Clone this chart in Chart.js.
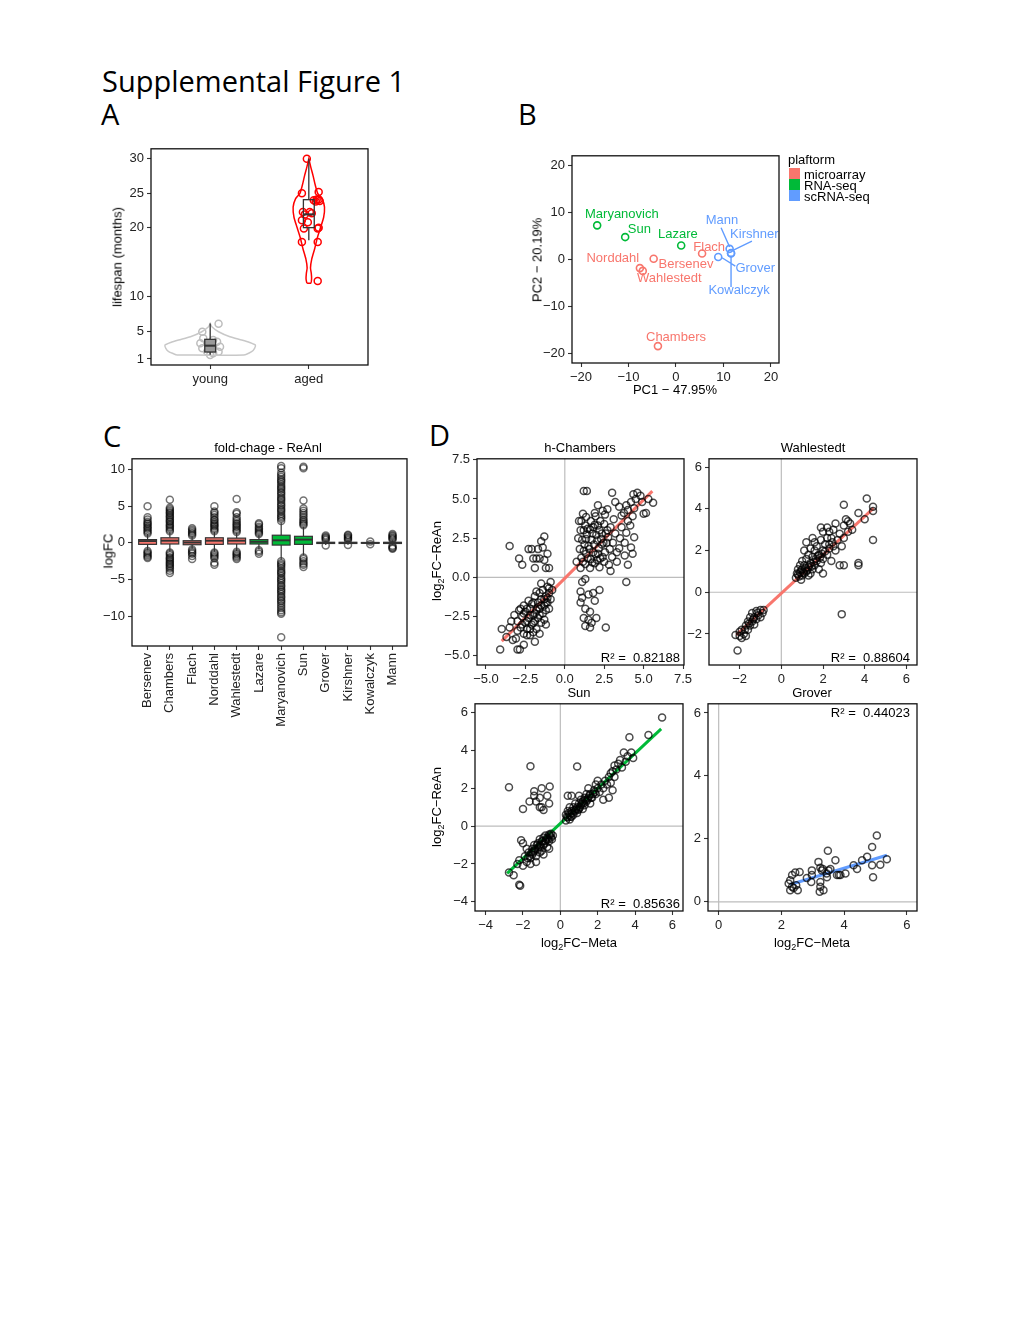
<!DOCTYPE html>
<html>
<head>
<meta charset="utf-8">
<script src="https://cdn.jsdelivr.net/npm/chart.js@4.4.1/dist/chart.umd.min.js"></script>
<style>
  body { margin: 0; background: #fff; width: 1020px; height: 1320px; position: relative; overflow: hidden;
         font-family: "Liberation Sans", Arial, sans-serif; color: #000; }
  canvas { position: absolute; }
  .t { position: absolute; white-space: pre; font-size: 13px; line-height: 13px; }
  .t sub { font-size: 9px; line-height: 0; vertical-align: -3px; }
  .big { position: absolute; white-space: pre; font-family: "Open Sans", sans-serif; font-size: 29px; line-height: 29px; }
  .key { position: absolute; width: 11px; height: 11px; }
</style>
</head>
<body>
<script>
// ---------- A: lifespan ----------
const groups = ['young', 'aged'];
const lifeTicks = [1, 5, 10, 20, 25, 30];
const youngViolinY = [1.58, 2.06, 2.55, 3.02, 3.4, 3.75, 4.22, 4.95, 5.67, 6.16];
const youngViolinW = [0.34, 0.42, 0.45, 0.458, 0.4, 0.32, 0.2, 0.085, 0.017, 0];
const agedViolinY = [12.0, 12.6, 13.4, 14.2, 15.5, 17.0, 18.5, 20.0, 21.5, 23.0, 24.2, 25.0, 26.2, 27.5, 28.8, 30.0];
const agedViolinW = [0.02, 0.028, 0.025, 0.017, 0.03, 0.06, 0.085, 0.118, 0.15, 0.159, 0.135, 0.09, 0.065, 0.044, 0.02, 0];
const youngPts = [[1.085, 6.1], [0.92, 4.95], [0.9, 3.27], [0.92, 2.55], [0.97, 2.06], [1.03, 1.82], [1.085, 2.06],
  [1.0, 1.58], [1.1, 2.78], [1.07, 3.5], [0.93, 3.99], [1.03, 3.75]];
const agedPts = [[1.98, 30.0], [1.93, 25.0], [2.10, 25.2], [2.08, 24.1], [2.10, 24.1], [2.05, 24.0], [2.07, 23.8],
  [2.11, 23.9], [1.94, 22.3], [1.96, 21.95], [2.03, 22.1], [2.01, 22.3], [1.93, 21.1], [1.99, 20.8], [1.95, 19.9],
  [2.10, 20.0], [2.09, 19.9], [1.93, 17.95], [2.09, 17.95], [2.09, 12.3]];
const lifeQ1 = [2.01, 20.03];
const lifeMed = [2.93, 21.95];
const lifeQ3 = [3.85, 24.08];
const lifeLo = [1.6, 18.2];
const lifeHi = [6.16, 30.0];

// ---------- B: PCA ----------
const platforms = ['microarray', 'RNA-seq', 'scRNA-seq'];
const pcaNames = ['Maryanovich', 'Sun', 'Lazare', 'Flach', 'Bersenev', 'Norddahl', 'Wahlestedt', 'Chambers', 'Mann', 'Kirshner', 'Grover', 'Kowalczyk'];
const pcaPlatform = [1, 1, 1, 0, 0, 0, 0, 0, 2, 2, 2, 2];
const pcaPC1 = [-16.6, -10.7, 1.1, 5.5, -4.7, -7.6, -7.0, -3.8, 11.3, 11.6, 8.9, 11.6];
const pcaPC2 = [7.3, 4.8, 3.0, 1.3, 0.2, -1.8, -2.4, -18.4, 2.3, 1.4, 0.55, 1.3];
const pcaLabelX = [-11.4, -7.7, 0.4, 7.0, 2.1, -13.3, -1.4, 0.0, 9.7, 16.5, 16.7, 13.3];
const pcaLabelY = [9.6, 6.4, 5.3, 2.7, -1.0, 0.2, -3.9, -16.6, 8.3, 5.3, -1.8, -6.5];
const pcaLeadFrom = { Mann: [9.5, 6.8], Kirshner: [16.0, 3.95], Grover: [12.5, -1.4], Kowalczyk: [11.6, -5.8] };
const pcaLeadTo = { Mann: [11.3, 2.7], Kirshner: [12.1, 2.0], Grover: [9.7, 0.4], Kowalczyk: [11.6, 0.9] };
const pcaTicks = [-20, -10, 0, 10, 20];

// ---------- C: fold change boxplots ----------
const cNames = ['Bersenev', 'Chambers', 'Flach', 'Norddahl', 'Wahlestedt', 'Lazare', 'Maryanovich', 'Sun', 'Grover', 'Kirshner', 'Kowalczyk', 'Mann'];
const cPlatform = [0, 0, 0, 0, 0, 1, 1, 1, 2, 2, 2, 2];
const cQ1 = [-0.2, -0.15, -0.25, -0.2, -0.15, -0.15, -0.3, -0.2, -0.08, -0.08, -0.05, -0.08];
const cMed = [0.25, 0.3, 0.05, 0.3, 0.3, 0.15, 0.35, 0.45, 0.0, 0.0, 0.0, 0.0];
const cQ3 = [0.45, 0.7, 0.3, 0.7, 0.65, 0.45, 1.05, 0.9, 0.08, 0.08, 0.05, 0.08];
const cLo = [-1.0, -1.2, -0.8, -1.2, -1.1, -0.9, -2.3, -1.7, -0.3, -0.25, -0.15, -0.3];
const cHi = [1.2, 1.5, 0.9, 1.5, 1.4, 1.1, 2.8, 2.2, 0.3, 0.3, 0.15, 0.35];
const cOutliers = [
  [1.3, 1.5, 1.7, 1.95, 2.1, 2.3, 2.55, 2.7, 2.9, 3.2, 3.5, 5.0, -1.1, -1.3, -1.5, -1.7, -1.9, -2.05],
  [1.6, 1.8, 2.05, 2.2, 2.4, 2.6, 2.85, 3.0, 3.2, 3.45, 3.6, 3.8, 4.05, 4.2, 4.4, 4.6, 4.8, 5.9,
   -1.3, -1.5, -1.7, -1.95, -2.1, -2.3, -2.5, -2.75, -2.9, -3.1, -3.3, -3.5, -3.8, -4.1],
  [1.0, 1.2, 1.4, 1.6, 1.8, 2.0, -0.9, -1.1, -1.3, -1.5, -1.8, -2.2],
  [1.6, 1.8, 2.0, 2.25, 2.4, 2.6, 2.8, 3.05, 3.2, 3.5, 3.8, 4.1, 4.3, 5.0, -1.3, -1.5, -1.7, -1.9, -2.1, -2.7, -3.0],
  [1.5, 1.7, 1.9, 2.15, 2.3, 2.5, 2.7, 2.95, 3.2, 3.5, 4.0, 4.2, 6.0, -1.2, -1.4, -1.6, -1.8, -2.0, -2.2],
  [1.2, 1.4, 1.6, 1.8, 2.0, 2.2, 2.5, 2.7, -1.0, -1.2, -1.5],
  [3.0, 3.3, 3.5, 3.7, 4.0, 4.3, 4.5, 4.7, 5.0, 5.2, 5.5, 5.8, 6.0, 6.2, 6.5, 6.8, 7.0, 7.3, 7.5, 7.7, 8.0, 8.3, 8.5,
   8.7, 9.0, 9.3, 9.6, 10.2, 10.5,
   -2.5, -2.8, -3.0, -3.2, -3.5, -3.8, -4.0, -4.2, -4.5, -4.8, -5.0, -5.2, -5.5, -5.8, -6.0, -6.3, -6.5, -6.7, -7.0,
   -7.3, -7.5, -7.8, -8.0, -8.3, -8.6, -8.9, -9.2, -9.5, -9.7, -12.9],
  [2.4, 2.6, 2.8, 3.0, 3.2, 3.5, 3.8, 4.1, 4.4, 4.7, 5.8, 10.2, 10.4, -2.0, -2.2, -2.5, -2.8, -3.0, -3.3],
  [0.4, 0.55, 0.7, 0.85, 1.0, -0.35],
  [0.4, 0.55, 0.7, 0.85, 1.0, 1.1, -0.3],
  [0.2, -0.2],
  [0.45, 0.6, 0.75, 0.9, 1.05, 1.2, -0.4, -0.55, -0.7, -0.8]
];
const cTicks = [-10, -5, 0, 5, 10];

// ---------- D: correlation scatters ----------
const d1Pts = [
  [-4.1, -4.6], [-4.0, -3.3], [-3.7, -3.8], [-3.5, -3.2], [-3.3, -4.0], [-3.1, -3.9], [-3.0, -4.6], [-2.85, -4.6],
  [-2.6, -4.3], [-2.4, -3.7], [-2.2, -3.7], [-1.9, -4.1], [-1.6, -3.6],
  [-3.2, -2.4], [-3.0, -2.8], [-2.9, -2.1], [-2.8, -3.2], [-2.7, -2.5], [-2.6, -1.8], [-2.5, -2.9], [-2.5, -2.2],
  [-2.4, -3.3], [-2.3, -1.5], [-2.3, -2.6], [-2.2, -2.0], [-2.1, -3.0], [-2.0, -2.4], [-2.0, -1.6], [-1.9, -2.8],
  [-1.9, -1.2], [-1.8, -2.1], [-1.8, -3.3], [-1.7, -1.6], [-1.7, -2.6], [-1.6, -1.0], [-1.6, -2.0], [-1.5, -2.9],
  [-1.5, -1.4], [-1.4, -2.3], [-1.4, -0.8], [-1.3, -1.8], [-1.3, -2.7], [-1.2, -1.2], [-1.2, -2.1], [-1.1, -0.6],
  [-1.1, -1.6], [-1.0, -1.0], [-1.0, -2.0], [-0.9, -1.4], [-0.9, -0.3], [-1.5, -0.4], [-2.6, -3.6], [-3.4, -2.8],
  [-2.0, -3.5], [-1.2, -3.0], [-0.8, -0.8], [-1.8, -0.9],
  [-2.8, -2.0], [-2.6, -2.3], [-2.4, -2.0], [-2.2, -2.4], [-2.1, -1.7], [-1.9, -2.3], [-1.7, -1.9], [-1.5, -1.8],
  [-1.3, -1.4], [-1.1, -1.3], [-2.4, -2.8], [-2.0, -2.9], [-1.6, -2.4], [-1.2, -1.6], [-1.0, -0.7], [-2.2, -3.3],
  [-3.0, -3.4], [-2.7, -3.0],
  [-3.5, 2.0], [-2.9, 1.2], [-2.7, 0.8], [-2.3, 1.8], [-2.1, 1.8], [-2.0, 1.2], [-1.7, 1.8], [-1.5, 2.3], [-1.3, 2.6],
  [-1.1, 1.5], [-1.2, 0.6], [-1.8, 1.2], [-1.9, 0.6], [-1.0, 0.6], [-1.3, 1.1], [-1.6, 1.2], [-1.4, 1.9],
  [1.1, -0.3], [1.3, -0.1], [1.0, -0.9], [1.1, -1.3], [1.5, -1.1], [1.8, -1.0], [2.2, -0.8], [1.9, -1.5], [1.3, -2.0],
  [1.6, -2.2], [1.2, -2.6], [1.5, -2.7], [1.7, -2.9], [1.3, -3.1], [1.6, -3.2], [2.6, -3.2], [3.9, -0.3], [2.0, -2.6], [1.0, -1.6],
  [1.0, 0.6], [1.05, 1.25], [0.95, 1.8], [1.1, 2.4], [1.0, 3.0], [1.05, 3.6], [1.15, 4.05],
  [1.3, 0.85], [1.35, 1.5], [1.25, 2.1], [1.4, 2.75], [1.3, 3.3], [1.35, 3.85],
  [1.6, 0.6], [1.65, 1.15], [1.55, 1.8], [1.7, 2.4], [1.6, 3.05], [1.65, 3.6],
  [1.9, 0.9], [1.95, 1.45], [1.85, 2.1], [2.0, 2.7], [1.9, 3.35], [1.95, 3.9],
  [2.2, 0.65], [2.25, 1.2], [2.15, 1.85], [2.3, 2.45], [2.2, 3.0], [2.25, 3.6],
  [2.5, 1.0], [2.55, 1.6], [2.45, 2.2], [2.6, 2.8], [2.5, 3.4], [2.55, 4.0],
  [2.8, 0.8], [2.85, 1.8], [2.75, 2.55], [2.9, 3.2], [3.0, 1.3], [3.05, 2.2], [3.1, 3.7], [3.2, 2.8],
  [3.3, 1.6], [3.5, 2.5], [3.6, 3.2], [3.45, 1.85], [3.8, 2.2], [3.8, 1.4], [3.9, 2.85],
  [1.15, 1.0], [1.45, 1.2], [1.75, 0.95], [2.05, 1.1], [1.2, 1.7], [1.5, 2.0], [1.8, 1.6], [2.1, 1.5], [2.4, 1.3],
  [1.35, 2.45], [1.75, 2.8], [2.05, 2.35], [2.35, 2.1], [2.65, 2.2], [2.35, 2.8], [2.7, 3.0], [1.45, 3.1], [1.8, 3.2],
  [2.1, 3.3], [1.2, 3.0],
  [4.0, 3.6], [4.0, 4.3], [4.2, 4.8], [4.3, 1.5], [4.3, 3.9], [4.4, 4.4], [4.5, 5.0], [4.6, 5.4], [4.8, 5.2],
  [5.0, 4.05], [5.15, 4.1], [4.9, 4.8], [5.3, 5.0], [5.6, 4.75], [4.35, 5.3], [3.9, 4.6],
  [1.2, 5.5], [1.4, 5.5], [1.9, 4.1], [2.4, 4.25], [2.1, 4.6], [2.7, 4.35], [3.2, 4.8], [3.45, 4.5], [3.0, 5.4],
  [4.2, 1.9], [4.0, 0.8], [3.3, 1.0], [2.9, 0.4], [4.4, 2.55], [0.75, 1.0], [3.75, 4.1], [4.15, 3.3], [3.6, 3.95],
  [0.9, 3.6], [0.85, 2.5]
];
const d1Fit = [[-4.0, -4.07], [5.55, 5.5]];
const d2Pts = [
  [-2.2, -2.05], [-2.1, -2.8], [-2.0, -2.1], [-1.9, -1.8], [-1.8, -2.0], [-1.7, -1.6], [-1.7, -2.1], [-1.6, -1.4],
  [-1.6, -1.8], [-1.5, -1.2], [-1.5, -1.6], [-1.4, -1.0], [-1.4, -1.4], [-1.3, -1.2], [-1.2, -0.9], [-1.2, -1.3],
  [-1.1, -1.1], [-1.0, -0.85], [-1.0, -1.2], [-0.9, -1.0], [-0.85, -0.85], [-1.9, -2.2], [-2.0, -1.9], [-1.3, -1.55],
  [-1.15, -1.0], [-1.35, -1.3], [-1.55, -1.5], [-1.75, -1.8],
  [0.7, 0.7], [0.75, 0.9], [0.8, 1.1], [0.85, 0.75], [0.9, 0.95], [0.9, 1.3], [1.0, 0.8], [1.0, 1.1], [1.0, 1.5],
  [1.1, 0.9], [1.1, 1.3], [1.2, 1.0], [1.2, 1.6], [1.2, 2.4], [1.3, 1.2], [1.3, 1.8], [1.4, 0.9], [1.4, 1.4],
  [1.4, 2.1], [1.5, 1.1], [1.5, 1.7], [1.6, 1.3], [1.6, 2.0], [1.6, 2.4], [1.7, 1.5], [1.7, 2.2], [1.8, 1.1],
  [1.8, 1.8], [1.9, 2.5], [1.9, 1.4], [2.0, 2.0], [2.0, 1.6], [2.0, 0.9], [2.1, 2.3], [2.2, 1.8], [2.2, 2.6],
  [2.3, 2.1], [2.4, 1.5], [2.4, 2.6], [2.5, 2.2], [2.5, 3.0], [2.6, 2.0], [2.7, 2.5], [2.8, 1.3], [2.8, 2.8],
  [2.9, 2.2], [3.0, 3.2], [3.0, 2.6], [3.1, 3.5], [3.2, 2.9], [3.2, 3.4], [3.3, 3.3], [3.4, 3.0], [2.6, 3.3],
  [0.8, 0.85], [0.95, 1.05], [1.05, 0.95], [1.15, 1.15], [1.25, 1.05], [1.35, 1.3], [1.45, 1.25], [1.55, 1.45],
  [1.65, 1.6], [1.75, 1.75], [1.85, 1.65], [1.95, 1.85], [2.1, 1.95], [2.3, 2.3], [2.45, 2.4],
  [2.2, 3.1], [1.9, 3.1], [2.0, 2.9], [1.1, 2.0], [3.0, 4.2], [3.7, 3.8], [4.1, 4.5], [4.4, 4.1], [4.4, 3.9],
  [4.0, 3.5], [4.4, 2.5], [3.7, 1.4], [3.7, 1.3], [2.9, -1.05], [3.0, 1.3], [2.3, 2.9], [1.5, 2.6], [0.95, 0.6], [1.3, 0.8]
];
const d2Fit = [[-2.16, -2.05], [4.43, 4.03]];
const d3Pts = [
  [-2.75, -2.45], [-2.5, -2.6], [-2.2, -3.1], [-2.15, -3.15], [-2.3, -2.0], [-2.2, -1.8], [-2.1, -0.75], [-2.0, -0.9],
  [-2.0, -2.1], [-1.9, -1.6], [-1.8, -1.9], [-1.7, -1.4], [-1.6, -1.7], [-1.5, -1.2], [-1.5, -1.5], [-1.4, -1.0],
  [-1.4, -1.3], [-1.3, -1.6], [-1.2, -0.9], [-1.2, -1.2], [-1.1, -0.7], [-1.1, -1.0], [-1.0, -1.3], [-1.0, -0.8],
  [-0.9, -0.6], [-0.9, -1.0], [-0.8, -0.5], [-0.8, -0.8], [-0.7, -0.6], [-0.7, -1.1], [-0.6, -0.45], [-0.6, -0.8],
  [-0.5, -0.6], [-0.5, -0.4], [-0.4, -0.5], [-1.6, -2.0], [-1.3, -1.9], [-0.9, -1.5], [-1.8, -1.2], [-1.1, -1.4], [-0.6, -1.2],
  [-0.45, -0.7], [-0.55, -0.5], [-0.65, -0.7], [-0.75, -0.7], [-0.85, -0.9], [-0.95, -0.8], [-1.05, -1.1],
  [-1.15, -1.1], [-1.25, -1.0], [-1.35, -1.2], [-1.45, -1.4], [-1.55, -1.4], [-1.65, -1.6], [-1.75, -1.7],
  [-2.75, 2.05], [-1.6, 3.17], [-1.4, 1.85], [-1.0, 2.0], [-0.57, 2.1], [-1.3, 1.3], [-0.7, 1.6], [-1.65, 1.3],
  [-2.0, 0.9], [-1.0, 1.0], [-0.9, 0.85], [-0.6, 1.2], [-1.4, 1.6], [-1.1, 1.5], [-1.1, 1.0], [0.9, 3.15],
  [0.3, 0.3], [0.3, 0.6], [0.4, 0.45], [0.4, 0.8], [0.5, 0.35], [0.5, 0.6], [0.5, 1.0], [0.6, 0.5], [0.6, 0.8],
  [0.6, 1.6], [0.7, 0.6], [0.7, 1.0], [0.8, 0.8], [0.8, 1.2], [0.9, 0.7], [0.9, 1.0], [1.0, 1.2], [1.0, 0.9],
  [1.1, 1.4], [1.1, 1.1], [1.2, 0.9], [1.2, 1.3], [1.3, 1.5], [1.3, 1.1], [1.4, 1.3], [1.4, 1.7], [1.5, 1.5],
  [1.6, 1.2], [1.6, 1.7], [1.7, 1.5], [1.8, 1.9], [1.9, 1.7], [2.0, 2.0], [2.1, 1.8], [2.2, 2.2], [2.3, 2.0],
  [0.35, 0.5], [0.45, 0.7], [0.55, 0.5], [0.65, 0.7], [0.75, 0.85], [0.85, 0.9], [0.95, 0.85], [1.05, 1.0],
  [1.15, 1.2], [1.25, 1.2], [1.35, 1.4], [1.45, 1.4], [1.55, 1.6], [1.65, 1.5], [1.75, 1.7], [1.85, 1.8],
  [2.4, 2.4], [2.5, 2.2], [2.6, 2.6], [2.7, 2.3], [2.8, 2.9], [2.9, 2.6], [2.8, 1.9], [2.7, 2.8], [3.0, 3.0],
  [3.1, 3.3], [3.2, 3.5], [3.3, 3.1], [3.5, 3.4], [3.6, 3.7], [3.7, 4.7], [3.8, 3.9], [3.9, 3.6], [4.72, 4.82],
  [5.45, 5.75], [2.3, 1.4], [2.6, 1.5], [2.0, 2.4], [1.5, 2.0], [0.4, 1.6], [3.4, 3.9], [2.9, 3.2], [1.9, 2.2], [1.0, 1.6]
];
const d3Fit = [[-2.85, -2.5], [5.4, 5.14]];
const d4Pts = [
  [2.23, 0.58], [2.28, 0.69], [2.34, 0.85], [2.28, 0.37], [2.39, 0.44], [2.47, 0.53], [2.52, 0.37], [2.44, 0.93],
  [2.58, 0.95], [2.81, 0.76], [2.97, 0.85], [2.95, 0.63], [3.18, 1.27], [3.24, 1.08], [3.29, 1.0], [3.24, 0.63],
  [3.24, 0.48], [3.22, 0.32], [3.34, 0.37], [3.32, 1.04], [3.45, 0.78], [3.5, 1.0], [3.56, 1.04], [3.72, 1.32],
  [3.77, 0.85], [3.83, 0.85], [3.88, 0.85], [4.04, 0.9], [4.3, 1.16], [4.41, 1.04], [4.57, 1.32], [4.73, 1.43],
  [4.89, 1.74], [4.89, 1.16], [4.92, 0.78], [5.04, 2.11], [5.15, 1.18], [5.36, 1.35], [3.48, 1.62], [2.34, 0.48],
  [2.97, 1.0], [3.44, 0.9]
];
const d4Fit = [[2.28, 0.55], [5.36, 1.48]];

// ---------- styling / helpers ----------
const FONT = '"Liberation Sans", Arial, sans-serif';
const platformColors = ['#F8766D', '#00BA38', '#619CFF'];
const AX_W = 45, PAD_T = 10, PAD_R = 16;

const toXY = pts => pts.map(p => ({ x: p[0], y: p[1] }));
const signed = v => (v < 0 ? '\u2212' : '') + Math.abs(v);
const signed1 = v => (v < 0 ? '\u2212' : '') + Math.abs(v).toFixed(1);

function text(str, cx, cy, o = {}) {
  const d = document.createElement('div');
  d.className = 't';
  d.innerHTML = str;
  d.style.left = cx + 'px';
  d.style.top = cy + 'px';
  const ax = o.align === 'right' ? '-100%' : o.align === 'left' ? '0' : '-50%';
  d.style.transform = `translate(${ax},-50%)` + (o.rot ? ' rotate(-90deg)' : '');
  if (o.color) d.style.color = o.color;
  document.body.appendChild(d);
}

function big(str, left, baseline) {
  const d = document.createElement('div');
  d.className = 'big';
  d.textContent = str;
  d.style.left = left + 'px';
  d.style.top = (baseline - 25.75) + 'px';
  document.body.appendChild(d);
}

function makeCanvas(box, xH) {
  const c = document.createElement('canvas');
  const w = box.R - box.L + AX_W + PAD_R, h = box.B - box.T + PAD_T + xH;
  c.width = w; c.height = h;
  c.style.left = (box.L - AX_W) + 'px';
  c.style.top = (box.T - PAD_T) + 'px';
  c.style.width = w + 'px';
  c.style.height = h + 'px';
  document.body.appendChild(c);
  return c;
}

function axis(min, max, ticks, fmt, size, horizontal, rot) {
  return {
    type: 'linear', min, max,
    afterBuildTicks: s => { s.ticks = ticks.map(v => ({ value: v })); },
    afterFit: s => { if (horizontal) s.height = size; else s.width = size; },
    grid: { drawOnChartArea: false, drawTicks: true, tickLength: 4, color: '#333', tickColor: '#333', tickWidth: 1.1 },
    border: { display: false },
    ticks: { font: { family: FONT, size: 13 }, color: '#222', padding: 3, autoSkip: false,
             minRotation: rot || 0, maxRotation: rot || 0, callback: fmt }
  };
}

const frame = {
  id: 'frame',
  afterDraw(chart) {
    const a = chart.chartArea, ctx = chart.ctx;
    ctx.save();
    ctx.strokeStyle = '#111';
    ctx.lineWidth = 1.3;
    ctx.strokeRect(a.left, a.top, a.right - a.left, a.bottom - a.top);
    ctx.restore();
  }
};

const zeroLines = {
  id: 'zeroLines',
  beforeDatasetsDraw(chart) {
    const a = chart.chartArea, ctx = chart.ctx;
    const x0 = chart.scales.x.getPixelForValue(0), y0 = chart.scales.y.getPixelForValue(0);
    ctx.save();
    ctx.strokeStyle = '#bdbdbd';
    ctx.lineWidth = 1.2;
    ctx.beginPath();
    if (x0 >= a.left && x0 <= a.right) { ctx.moveTo(x0, a.top); ctx.lineTo(x0, a.bottom); }
    if (y0 >= a.top && y0 <= a.bottom) { ctx.moveTo(a.left, y0); ctx.lineTo(a.right, y0); }
    ctx.stroke();
    ctx.restore();
  }
};

function boxPlugin(b) {
  return {
    id: 'boxes',
    afterDatasetsDraw(chart) {
      const xs = chart.scales.x, ys = chart.scales.y, ctx = chart.ctx;
      ctx.save();
      b.q1.forEach((q1, i) => {
        const c = b.pos[i];
        const l = xs.getPixelForValue(c - b.half), r = xs.getPixelForValue(c + b.half), m = xs.getPixelForValue(c);
        const top = ys.getPixelForValue(b.q3[i]), bot = ys.getPixelForValue(q1);
        ctx.strokeStyle = b.stroke;
        ctx.lineWidth = b.lw;
        ctx.beginPath();
        ctx.moveTo(m, top); ctx.lineTo(m, ys.getPixelForValue(b.hi[i]));
        ctx.moveTo(m, bot); ctx.lineTo(m, ys.getPixelForValue(b.lo[i]));
        ctx.stroke();
        if (b.fill[i]) { ctx.fillStyle = b.fill[i]; ctx.fillRect(l, top, r - l, bot - top); }
        ctx.strokeRect(l, top, r - l, bot - top);
        const md = ys.getPixelForValue(b.med[i]);
        ctx.lineWidth = b.lw * 1.6;
        ctx.beginPath(); ctx.moveTo(l, md); ctx.lineTo(r, md); ctx.stroke();
      });
      ctx.restore();
    }
  };
}

function baseOptions(scales) {
  return {
    responsive: false, animation: false, devicePixelRatio: 1,
    layout: { padding: { left: 0, top: PAD_T, right: PAD_R, bottom: 0 } },
    plugins: { legend: { display: false }, tooltip: { enabled: false } },
    scales
  };
}

function ring(color, width) {
  return { pointRadius: 3.5, pointHoverRadius: 3.5, pointBorderWidth: width, pointBorderColor: color, pointBackgroundColor: 'rgba(0,0,0,0)' };
}

function violin(center, ys, ws) {
  const left = ys.map((v, i) => ({ x: center - ws[i], y: v }));
  const right = ys.map((v, i) => ({ x: center + ws[i], y: v })).reverse();
  return left.concat(right, [left[0]]);
}

// ---------- page titles ----------
big('Supplemental Figure 1', 102, 92);
big('A', 101, 125);
big('B', 518, 124.5);
big('C', 103, 447);
big('D', 429, 446);

// ---------- Panel A ----------
{
  const box = { L: 151, T: 148, R: 368, B: 365 };
  new Chart(makeCanvas(box, 25), {
    type: 'scatter',
    data: { datasets: [
      { data: violin(1, youngViolinY, youngViolinW), showLine: true, pointRadius: 0, borderColor: '#c8c8c8', borderWidth: 1.5, tension: 0.2 },
      { data: violin(2, agedViolinY, agedViolinW), showLine: true, pointRadius: 0, borderColor: '#ff0000', borderWidth: 1.5, tension: 0.2 },
      Object.assign({ data: toXY(youngPts) }, ring('#bdbdbd', 1.5)),
      Object.assign({ data: toXY(agedPts) }, ring('#ff0000', 1.5))
    ] },
    options: baseOptions({
      x: axis(0.4, 2.6, [1, 2], v => groups[v - 1], 25, true),
      y: axis(0.13, 31.45, lifeTicks, signed, AX_W, false)
    }),
    plugins: [frame, boxPlugin({ pos: [1, 2], half: 0.055, q1: lifeQ1, med: lifeMed, q3: lifeQ3, lo: lifeLo, hi: lifeHi,
      fill: ['#9a9a9a', null], stroke: '#333', lw: 1.3 })]
  });
  text('lifespan (months)', 117, 257, { rot: true });
}

// ---------- Panel B ----------
{
  const box = { L: 572, T: 155, R: 779, B: 363 };
  const pcaText = {
    id: 'pcaText',
    afterDatasetsDraw(chart) {
      const xs = chart.scales.x, ys = chart.scales.y, ctx = chart.ctx;
      ctx.save();
      ctx.strokeStyle = platformColors[2];
      ctx.lineWidth = 1.4;
      ctx.beginPath();
      Object.keys(pcaLeadFrom).forEach(k => {
        ctx.moveTo(xs.getPixelForValue(pcaLeadFrom[k][0]), ys.getPixelForValue(pcaLeadFrom[k][1]));
        ctx.lineTo(xs.getPixelForValue(pcaLeadTo[k][0]), ys.getPixelForValue(pcaLeadTo[k][1]));
      });
      ctx.stroke();
      ctx.font = '13px ' + FONT;
      ctx.textAlign = 'center';
      ctx.textBaseline = 'middle';
      pcaNames.forEach((n, i) => {
        ctx.fillStyle = platformColors[pcaPlatform[i]];
        ctx.fillText(n, xs.getPixelForValue(pcaLabelX[i]), ys.getPixelForValue(pcaLabelY[i]));
      });
      ctx.restore();
    }
  };
  const datasets = platforms.map((p, k) => Object.assign({
    label: p,
    data: pcaNames.map((n, i) => ({ x: pcaPC1[i], y: pcaPC2[i], k: pcaPlatform[i] })).filter(d => d.k === k)
  }, ring(platformColors[k], 1.6)));
  new Chart(makeCanvas(box, 25), {
    type: 'scatter',
    data: { datasets },
    options: baseOptions({
      x: axis(-21.9, 21.7, pcaTicks, signed, 25, true),
      y: axis(-22.0, 22.1, pcaTicks, signed, AX_W, false)
    }),
    plugins: [frame, pcaText]
  });
  text('PC2 \u2212 20.19%', 537, 260, { rot: true });
  text('PC1 \u2212 47.95%', 675, 389);
  text('plaftorm', 788, 159, { align: 'left' });
  platforms.forEach((p, k) => {
    const sw = document.createElement('div');
    sw.className = 'key';
    sw.style.left = '789px';
    sw.style.top = (168 + k * 11) + 'px';
    sw.style.background = platformColors[k];
    document.body.appendChild(sw);
    text(p, 804, 173.5 + k * 11, { align: 'left' });
  });
}

// ---------- Panel C ----------
{
  const box = { L: 132, T: 458, R: 407, B: 646 };
  const outl = [];
  cOutliers.forEach((vals, i) => vals.forEach(v => outl.push({ x: i + 1, y: v })));
  new Chart(makeCanvas(box, 95), {
    type: 'scatter',
    data: { datasets: [Object.assign({ data: outl }, ring('rgba(0,0,0,0.55)', 1.5))] },
    options: baseOptions({
      x: axis(0.3, 12.65, cNames.map((n, i) => i + 1), v => cNames[v - 1], 95, true, 90),
      y: axis(-14.1, 11.5, cTicks, signed, AX_W, false)
    }),
    plugins: [frame, boxPlugin({ pos: cNames.map((n, i) => i + 1), half: 0.4, q1: cQ1, med: cMed, q3: cQ3, lo: cLo, hi: cHi,
      fill: cPlatform.map(p => platformColors[p]), stroke: '#333', lw: 1.2 })]
  });
  text('fold-chage - ReAnl', 268, 447);
  text('logFC', 108, 551, { rot: true });
}

// ---------- Panel D ----------
function corrPanel(box, pts, fit, fitColor, xr, yr, xt, yt, fmt) {
  new Chart(makeCanvas(box, 25), {
    type: 'scatter',
    data: { datasets: [
      Object.assign({ data: toXY(pts) }, ring('rgba(0,0,0,0.7)', 1.5)),
      { data: toXY(fit), showLine: true, pointRadius: 0, borderColor: fitColor, borderWidth: 3 }
    ] },
    options: baseOptions({
      x: axis(xr[0], xr[1], xt, fmt, 25, true),
      y: axis(yr[0], yr[1], yt, fmt, AX_W, false)
    }),
    plugins: [frame, zeroLines]
  });
}

corrPanel({ L: 477, T: 458, R: 684, B: 665 }, d1Pts, d1Fit, platformColors[0], [-5.57, 7.56], [-5.59, 7.56],
  [-5, -2.5, 0, 2.5, 5, 7.5], [-5, -2.5, 0, 2.5, 5, 7.5], signed1);
corrPanel({ L: 709, T: 458, R: 917, B: 665 }, d2Pts, d2Fit, platformColors[0], [-3.47, 6.51], [-3.49, 6.4],
  [-2, 0, 2, 4, 6], [-2, 0, 2, 4, 6], signed);
corrPanel({ L: 475, T: 703, R: 683, B: 911 }, d3Pts, d3Fit, platformColors[1], [-4.57, 6.57], [-4.49, 6.47],
  [-4, -2, 0, 2, 4, 6], [-4, -2, 0, 2, 4, 6], signed);
corrPanel({ L: 708, T: 703, R: 917, B: 911 }, d4Pts, d4Fit, platformColors[2], [-0.34, 6.32], [-0.29, 6.29],
  [0, 2, 4, 6], [0, 2, 4, 6], signed);

text('h-Chambers', 580, 447);
text('Wahlestedt', 813, 447);
text('Sun', 579, 692);
text('Grover', 812, 692);
text('log<sub>2</sub>FC\u2212Meta', 579, 942);
text('log<sub>2</sub>FC\u2212Meta', 812, 942);
text('log<sub>2</sub>FC\u2212ReAn', 436, 561, { rot: true });
text('log<sub>2</sub>FC\u2212ReAn', 436, 807, { rot: true });
text('R\u00b2 =  0.82188', 680, 657, { align: 'right' });
text('R\u00b2 =  0.88604', 910, 657, { align: 'right' });
text('R\u00b2 =  0.85636', 680, 903, { align: 'right' });
text('R\u00b2 =  0.44023', 910, 712, { align: 'right' });
</script>
</body>
</html>
